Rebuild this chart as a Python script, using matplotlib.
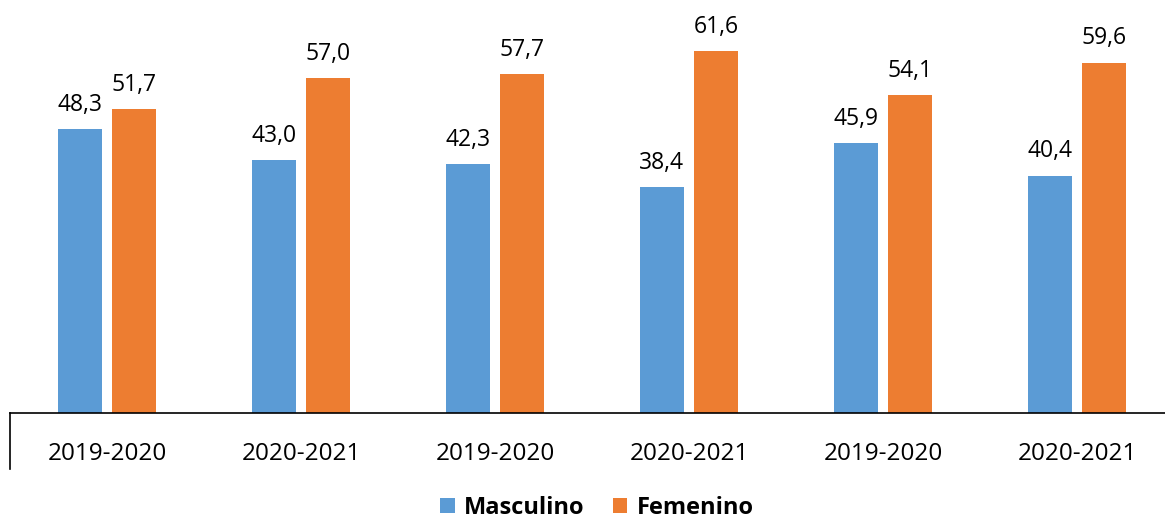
import matplotlib.pyplot as plt
import numpy as np

periodos = ["2019-2020", "2020-2021", "2019-2020", "2020-2021", "2019-2020", "2020-2021"]
masculino = [48.3, 43.0, 42.3, 38.4, 45.9, 40.4]
femenino = [51.7, 57.0, 57.7, 61.6, 54.1, 59.6]

AZUL = "#5B9BD5"
NARANJA = "#ED7D31"

plt.rcParams["font.family"] = ["Open Sans", "DejaVu Sans"]

fig = plt.figure(figsize=(11.65, 5.19), dpi=100)
ax = fig.add_axes([10 / 1165, 106 / 519, 1155 / 1165, 413 / 519])

x = np.arange(len(periodos))
ancho = 0.227
desp = 0.141

b1 = ax.bar(x - desp, masculino, ancho, color=AZUL, label="Masculino")
b2 = ax.bar(x + desp, femenino, ancho, color=NARANJA, label="Femenino")

for barras, valores in ((b1, masculino), (b2, femenino)):
    for b, v in zip(barras, valores):
        ax.annotate(f"{v:.1f}".replace(".", ","),
                    (b.get_x() + b.get_width() / 2, v),
                    xytext=(0, 9), textcoords="offset points",
                    ha="center", va="bottom", fontsize=16.5)

ax.set_ylim(0, 70.3)
ax.set_xlim(-0.5, -0.5 + 1155 / 194)
ax.set_yticks([])
ax.set_xticks(x)
ax.set_xticklabels(periodos, fontsize=17.5)
ax.tick_params(axis="x", length=0, pad=21)
for s in ("left", "right", "top"):
    ax.spines[s].set_visible(False)
ax.spines["bottom"].set_linewidth(1.2)

# linea vertical al inicio del eje de categorias
ax.plot([-0.5, -0.5], [0, -9.6], color="black", lw=1.2, clip_on=False)

fig.legend(handles=[b1, b2], loc="center", bbox_to_anchor=(597 / 1165, 1 - 508 / 519),
           ncol=2, frameon=False, prop={"size": 17, "weight": "bold"},
           handlelength=0.6, handleheight=0.6, handletextpad=0.4, columnspacing=1.2)

fig.savefig("out.png", dpi=100)
